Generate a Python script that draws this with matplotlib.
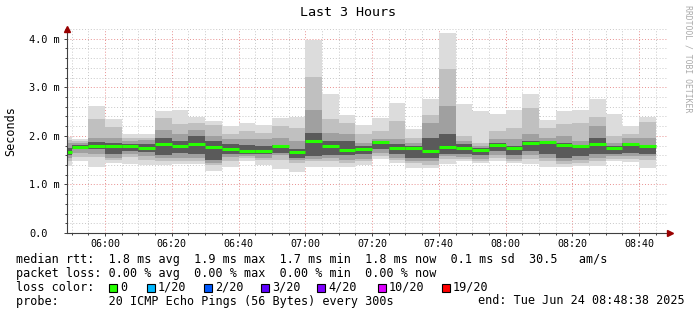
import matplotlib
matplotlib.use("Agg")
import matplotlib.pyplot as plt
import matplotlib.dates as mdates
import matplotlib.patches as mpatches
from matplotlib.ticker import MultipleLocator
import numpy as np
import pandas as pd

plt.rcParams['font.family'] = ['DejaVu Sans Mono']

# one bar per 5 minute step (start of each step)
step_start = pd.date_range("2025-06-24 05:45", periods=36, freq="5min")

# median rtt per step, ms
median = [1.66, 1.77, 1.80, 1.79, 1.79, 1.74, 1.84, 1.80, 1.84, 1.77,
          1.72, 1.68, 1.69, 1.79, 1.66, 1.89, 1.80, 1.71, 1.73, 1.87,
          1.76, 1.75, 1.68, 1.78, 1.76, 1.70, 1.82, 1.74, 1.86, 1.87,
          1.82, 1.79, 1.84, 1.74, 1.84, 1.79]

# smoke: upper / lower edges of the nested bands, outer (1) to inner (4)
top1 = [1.98, 1.94, 2.61, 2.34, 2.04, 2.04, 2.52, 2.54, 2.39, 2.30,
        2.21, 2.27, 2.22, 2.36, 2.39, 3.97, 2.87, 2.43, 2.22, 2.36,
        2.68, 2.14, 2.75, 4.12, 2.66, 2.52, 2.45, 2.54, 2.87, 2.32,
        2.51, 2.53, 2.75, 2.45, 2.20, 2.39]
top2 = [1.92, 1.90, 2.35, 2.18, 1.96, 1.96, 2.37, 2.24, 2.27, 2.23,
        2.03, 2.10, 2.06, 2.20, 2.17, 3.21, 2.34, 2.27, 2.03, 2.10,
        2.30, 1.96, 2.43, 3.37, 2.00, 1.86, 2.10, 2.17, 2.58, 2.17,
        2.24, 2.27, 2.39, 2.00, 2.04, 2.29]
top3 = [1.85, 1.86, 1.96, 1.96, 1.90, 1.91, 2.13, 2.03, 2.13, 1.99,
        1.93, 1.93, 1.93, 1.96, 1.89, 2.54, 2.06, 2.03, 1.86, 1.93,
        1.93, 1.85, 2.27, 2.61, 1.90, 1.80, 1.93, 1.93, 2.03, 1.96,
        2.00, 1.89, 2.20, 1.86, 1.96, 1.96]
top4 = [1.75, 1.82, 1.87, 1.86, 1.84, 1.84, 1.96, 1.89, 1.99, 1.89,
        1.84, 1.82, 1.80, 1.82, 1.72, 2.06, 1.90, 1.89, 1.79, 1.90,
        1.83, 1.80, 1.96, 2.04, 1.83, 1.75, 1.86, 1.80, 1.89, 1.89,
        1.86, 1.82, 1.96, 1.79, 1.86, 1.82]
bot4 = [1.60, 1.72, 1.72, 1.62, 1.69, 1.66, 1.60, 1.65, 1.62, 1.51,
        1.63, 1.62, 1.62, 1.65, 1.55, 1.58, 1.61, 1.60, 1.62, 1.72,
        1.62, 1.55, 1.55, 1.62, 1.62, 1.60, 1.68, 1.60, 1.68, 1.62,
        1.55, 1.58, 1.62, 1.62, 1.65, 1.62]
bot3 = [1.55, 1.65, 1.63, 1.55, 1.62, 1.58, 1.55, 1.55, 1.55, 1.45,
        1.56, 1.58, 1.55, 1.60, 1.50, 1.53, 1.55, 1.51, 1.53, 1.65,
        1.55, 1.48, 1.49, 1.58, 1.56, 1.53, 1.60, 1.53, 1.60, 1.55,
        1.48, 1.51, 1.55, 1.58, 1.58, 1.58]
bot2 = [1.48, 1.56, 1.56, 1.50, 1.56, 1.50, 1.49, 1.48, 1.48, 1.40,
        1.48, 1.54, 1.51, 1.51, 1.44, 1.48, 1.48, 1.45, 1.49, 1.58,
        1.50, 1.44, 1.41, 1.52, 1.52, 1.49, 1.54, 1.49, 1.52, 1.48,
        1.42, 1.45, 1.48, 1.53, 1.52, 1.50]
bot1 = [1.38, 1.49, 1.36, 1.44, 1.43, 1.40, 1.40, 1.42, 1.43, 1.28,
        1.35, 1.48, 1.40, 1.31, 1.26, 1.35, 1.35, 1.35, 1.40, 1.53,
        1.44, 1.33, 1.34, 1.42, 1.49, 1.44, 1.49, 1.44, 1.42, 1.35,
        1.35, 1.38, 1.38, 1.49, 1.46, 1.33]

yticks = [0, 1, 2, 3, 4]
ytick_labels = ["0.0", "1.0 m", "2.0 m", "3.0 m", "4.0 m"]

loss_labels = ["0", "1/20", "2/20", "3/20", "4/20", "10/20", "19/20"]
loss_colors = ['#26ff00', '#00b8ff', '#0059ff', '#5e00ff', '#7e00ff', '#dd00ff', '#ff0000']

line_rtt = "median rtt:  1.8 ms avg  1.9 ms max  1.7 ms min  1.8 ms now  0.1 ms sd  30.5   am/s"
line_loss = "packet loss: 0.00 % avg  0.00 % max  0.00 % min  0.00 % now"
line_probe = "probe:       20 ICMP Echo Pings (56 Bytes) every 300s"
line_end = "end: Tue Jun 24 08:48:38 2025"

W, H = 697, 315
fig = plt.figure(figsize=(W / 100, H / 100), dpi=100)
fig.patch.set_facecolor('white')
ax = fig.add_axes([67 / W, (H - 233) / H, (668 - 67) / W, (233 - 29) / H])

x = mdates.date2num(step_start)
w = 5.0 / 1440
band_cols = ['#dcdcdc', '#c0c0c0', '#a0a0a0', '#5a5a5a']
tops = [top1, top2, top3, top4]
bots = [bot1, bot2, bot3, bot4]
for t, b, c in zip(tops, bots, band_cols):
    t = np.array(t)
    b = np.array(b)
    ax.bar(x, t - b, bottom=b, width=w, align='edge', color=c, linewidth=0, zorder=1)

ax.hlines(median, x, x + w, colors=loss_colors[0], linewidth=2.2, zorder=3)

t0 = pd.Timestamp("2025-06-24 05:48:38")
t1 = pd.Timestamp("2025-06-24 08:48:38")
ax.set_xlim(mdates.date2num(t0), mdates.date2num(t1))
ax.set_ylim(0, 4.2)

ax.xaxis.set_major_locator(mdates.MinuteLocator(byminute=[0, 20, 40]))
ax.xaxis.set_minor_locator(mdates.MinuteLocator(byminute=range(0, 60, 5)))
ax.xaxis.set_major_formatter(mdates.DateFormatter('%H:%M'))
ax.yaxis.set_minor_locator(MultipleLocator(0.2))
ax.set_yticks(yticks)
ax.set_yticklabels(ytick_labels)
for lab in ax.get_yticklabels():
    lab.set_horizontalalignment('left')
    lab.set_fontsize(7.4)
for lab in ax.get_xticklabels():
    lab.set_fontsize(7.2)

ax.set_axisbelow(True)
ax.grid(which='minor', color='#c8c8c8', linestyle=(0, (1, 2)), linewidth=0.7)
ax.grid(which='major', color='#e89090', linestyle=(0, (1, 2)), linewidth=0.7)

ax.tick_params(axis='y', which='major', length=3 * 0.72, width=0.7, color='#404040', pad=25.2)
ax.tick_params(axis='y', which='minor', length=2 * 0.72, width=0.7, color='#404040')
ax.tick_params(axis='x', which='major', length=3 * 0.72, width=0.7, color='#404040', pad=2)
ax.tick_params(axis='x', which='minor', length=2 * 0.72, width=0.7, color='#404040')

for s in ['top', 'right']:
    ax.spines[s].set_visible(False)
for s in ['left', 'bottom']:
    ax.spines[s].set_color('#404040')
    ax.spines[s].set_linewidth(0.8)
    ax.spines[s].set_zorder(4)

ax.plot([0], [1.0], marker='^', ms=5, color='#990000', transform=ax.transAxes, clip_on=False, zorder=5)
ax.plot([1.004], [0], marker='>', ms=5, color='#990000', transform=ax.transAxes, clip_on=False, zorder=5)

fig.text(347.5 / W, 1 - 13 / H, "Last 3 Hours", ha='center', va='center', fontsize=9.6)
fig.text(11 / W, 1 - 131 / H, "Seconds", rotation=90, ha='center', va='center', fontsize=8.5)
fig.text(688 / W, 1 - 5 / H, "RRDTOOL / TOBI OETIKER", rotation=270, ha='center', va='top',
         fontsize=5.9, color='#aaaaaa')

fs = 8.5
fig.text(16 / W, 1 - 260 / H, line_rtt, va='center', fontsize=fs)
fig.text(16 / W, 1 - 273.5 / H, line_loss, va='center', fontsize=fs)
fig.text(16 / W, 1 - 287.5 / H, "loss color:", va='center', fontsize=fs)
box_x = [109, 147, 204, 261, 317, 378, 442]
for bx, lab, col in zip(box_x, loss_labels, loss_colors):
    fig.patches.append(mpatches.Rectangle((bx / W, 1 - (287.5 + 4) / H), 8 / W, 8 / H,
                                          transform=fig.transFigure, facecolor=col,
                                          edgecolor='black', linewidth=0.8))
    fig.text((bx + 11) / W, 1 - 287.5 / H, lab, va='center', fontsize=fs)
fig.text(16 / W, 1 - 301 / H, line_probe, va='center', fontsize=fs)
fig.text(478 / W, 1 - 301 / H, line_end, va='center', fontsize=fs)

fig.savefig("out.png", dpi=100)
